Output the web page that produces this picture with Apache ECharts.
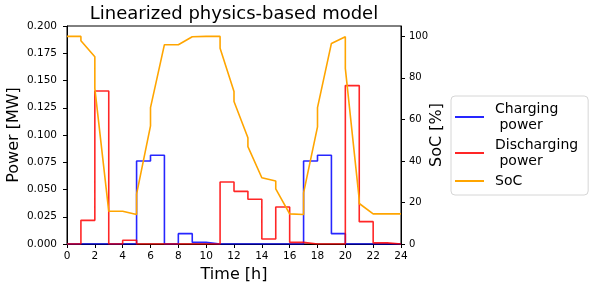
<!DOCTYPE html>
<html>
<head>
<meta charset="utf-8">
<script src="https://cdn.jsdelivr.net/npm/echarts@6/dist/echarts.min.js"></script>
<style>
html,body{margin:0;padding:0;background:#fff;}
#c{width:609px;height:290px;}
</style>
</head>
<body>
<div id="c"></div>
<script>
// Hour boundaries 0..24 (step-post values for hours 0..23, last value repeated at 24)
const hours = [0,1,2,3,4,5,6,7,8,9,10,11,12,13,14,15,16,17,18,19,20,21,22,23,24];
const chargingPower = [0,0,0,0,0,0.0761,0.0814,0,0.0095,0.0015,0,0,0,0,0,0,0,0.0761,0.0814,0.0095,0,0,0,0,0];
const dischargingPower = [0,0.0217,0.1404,0,0.0034,0,0,0,0,0,0,0.0569,0.0483,0.041,0.0046,0.034,0.0015,0,0,0,0.1453,0.0205,0.001,0,0];
// SoC at start of each hour (after step) and at end of each hour, hours 0..23
const socStart = [100,97.9,75.0,15.8,15.8,24.0,65.7,96.0,96.8,99.8,100,94.3,68.6,46.9,31.9,26.6,14.5,24.6,65.7,97.4,84.6,19.5,14.5,14.5];
const socEnd   = [100,90.2,15.8,15.8,14.2,56.9,96.0,96.0,99.8,100,100,73.4,51.2,31.9,30.3,14.5,14.2,56.4,96.6,99.8,21.4,14.5,14.5,14.5];
const powerTicks = [0,0.025,0.05,0.075,0.1,0.125,0.15,0.175,0.2];
const socTicks = [0,20,40,60,80,100];
const timeTicks = [0,2,4,6,8,10,12,14,16,18,20,22,24];

const FONT = 'DejaVu Sans';
const chart = echarts.init(document.getElementById('c'), null, {renderer:'canvas'});

const pair = (xs, ys) => xs.map((x,i)=>[x, ys[i]]);
const socData = [];
for (let h = 0; h < socStart.length; h++) {
  socData.push([hours[h], socStart[h]]);
  socData.push([hours[h+1], socEnd[h]]);
}

const axisCommon = {
  axisLine:{show:true, lineStyle:{color:'#000', width:1}},
  splitLine:{show:false},
  nameMoveOverlap:false,
  nameTextStyle:{fontFamily:FONT, fontSize:16, color:'#000'},
};

chart.setOption({
  animation:false,
  backgroundColor:'#fff',
  textStyle:{fontFamily:FONT},
  graphic:[{
    type:'text', x:234, y:5,
    style:{text:'Linearized physics-based model', font:'18px "DejaVu Sans"', fill:'#000', textAlign:'center', textVerticalAlign:'top'}
  }],
  grid:{left:67, right:208, top:26, bottom:46, outerBoundsMode:'none', containLabel:false,
        show:true, borderColor:'#000', borderWidth:1, backgroundColor:'transparent'},
  legend:{
    orient:'vertical', left:451, top:96,
    padding:[5,10,6,4],
    itemGap:4,
    itemWidth:29, itemHeight:2,
    icon:'rect',
    borderColor:'#d6d6d6', borderWidth:1, borderRadius:4,
    textStyle:{fontFamily:FONT, fontSize:14, color:'#000', lineHeight:16, padding:[0,0,0,6]},
    data:['Charging\n power','Discharging\n power','SoC']
  },
  xAxis:{
    type:'value', min:0, max:24, interval:2,
    name:'Time [h]', nameLocation:'middle', nameGap:23,
    ...axisCommon,
    axisTick:{show:true, length:4, lineStyle:{color:'#000'}, customValues:timeTicks},
    axisLabel:{fontFamily:FONT, fontSize:10.5, color:'#000', margin:7, customValues:timeTicks},
  },
  yAxis:[{
    type:'value', min:0, max:0.2, interval:0.025, position:'left',
    name:'Power [MW]', nameLocation:'middle', nameGap:45,
    ...axisCommon,
    axisLabel:{fontFamily:FONT, fontSize:10.5, color:'#000', margin:10, formatter:v=>v.toFixed(3), customValues:powerTicks},
    axisTick:{show:true, length:4, lineStyle:{color:'#000'}, customValues:powerTicks},
  },{
    type:'value', min:0, max:105, position:'right',
    name:'SoC [%]', nameLocation:'middle', nameGap:28,
    ...axisCommon,
    axisLabel:{fontFamily:FONT, fontSize:10, color:'#000', margin:8, customValues:socTicks},
    axisTick:{show:true, length:4, lineStyle:{color:'#000'}, customValues:socTicks},
  }],
  series:[{
    name:'Charging\n power', type:'line', step:'end', showSymbol:false, symbol:'none',
    data:pair(hours, chargingPower), yAxisIndex:0,
    color:'rgba(0,0,255,0.85)', lineStyle:{width:1.6, color:'rgba(0,0,255,0.85)'}, z:2
  },{
    name:'Discharging\n power', type:'line', step:'end', showSymbol:false, symbol:'none',
    data:pair(hours, dischargingPower), yAxisIndex:0,
    color:'rgba(255,0,0,0.85)', lineStyle:{width:1.6, color:'rgba(255,0,0,0.85)'}, z:3
  },{
    name:'SoC', type:'line', showSymbol:false, symbol:'none',
    data:socData, yAxisIndex:1,
    color:'#ffa500', lineStyle:{width:1.6, color:'#ffa500'}, z:4
  }]
});
</script>
</body>
</html>
